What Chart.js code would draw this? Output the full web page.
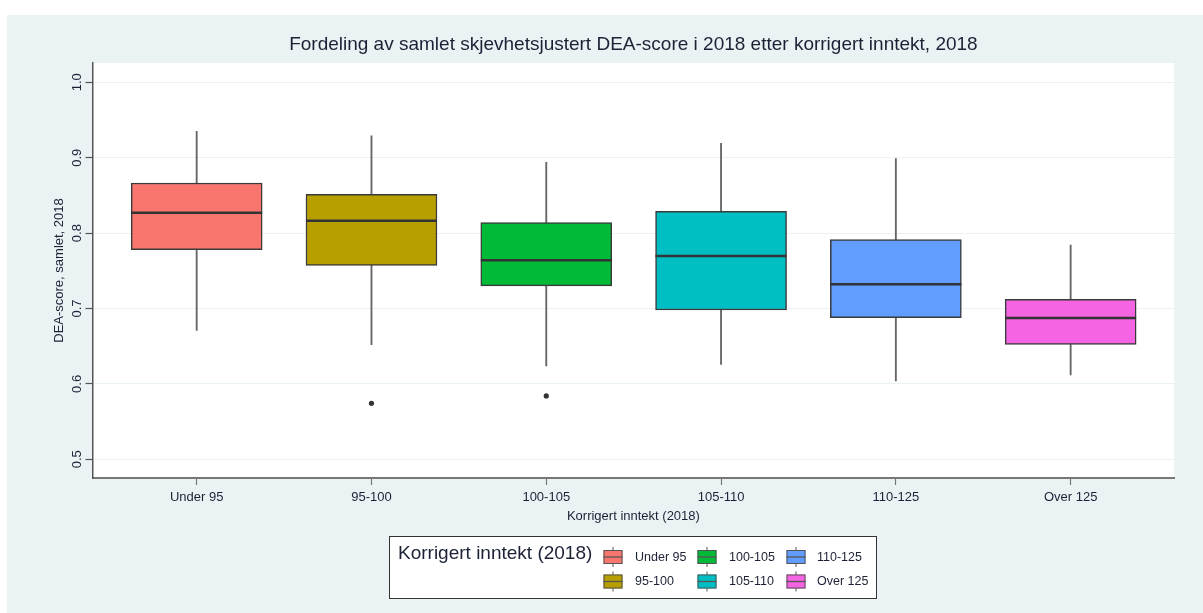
<!DOCTYPE html>
<html><head><meta charset="utf-8">
<script src="https://cdn.jsdelivr.net/npm/chart.js@4.4.0/dist/chart.umd.min.js"></script>
<style>html,body{margin:0;padding:0;background:#fff;}canvas{display:block;}</style>
</head><body>
<canvas id="c" width="1203" height="613"></canvas>
<script>
// ---- data ----
const categories  = ['Under 95', '95-100', '100-105', '105-110', '110-125', 'Over 125'];
const whiskerLow  = [0.671, 0.652, 0.624, 0.626, 0.604, 0.612];
const q1          = [0.778, 0.757, 0.730, 0.698, 0.688, 0.6525];
const medians     = [0.827, 0.8165, 0.764, 0.7696, 0.732, 0.6874];
const q3          = [0.8665, 0.8515, 0.8138, 0.829, 0.7913, 0.7122];
const whiskerHigh = [0.935, 0.929, 0.894, 0.919, 0.899, 0.784];
const outlierCat  = [1, 2];
const outlierVal  = [0.5743, 0.584];
const yTicks      = [0.5, 0.6, 0.7, 0.8, 0.9, 1.0];
const boxColors   = ['#F8766D', '#B79F00', '#00BA38', '#00BFC4', '#619CFF', '#F564E3'];
const chartTitle  = 'Fordeling av samlet skjevhetsjustert DEA-score i 2018 etter korrigert inntekt, 2018';
const yTitle      = 'DEA-score, samlet, 2018';
const xTitle      = 'Korrigert inntekt (2018)';
const legendTitle = 'Korrigert inntekt (2018)';

const FONT = 'Liberation Sans, Arial, sans-serif';
const TXT = '#1c2236';
const BG = '#eaf2f3';

const bgPlugin = {
  id: 'bg',
  beforeDraw(chart) {
    const {ctx, chartArea: a} = chart;
    ctx.save();
    ctx.fillStyle = '#fff';
    ctx.fillRect(0, 0, chart.width, chart.height);
    ctx.fillStyle = BG;
    ctx.fillRect(7, 15, chart.width - 7, chart.height - 15);
    ctx.fillStyle = '#fff';
    ctx.fillRect(a.left, a.top, a.right - a.left, a.bottom - a.top);
    ctx.restore();
  }
};

const legendPlugin = {
  id: 'boxLegend',
  afterDraw(chart) {
    const ctx = chart.ctx;
    ctx.save();
    ctx.fillStyle = '#fff';
    ctx.fillRect(389.5, 536.5, 487, 62);
    ctx.strokeStyle = '#333';
    ctx.lineWidth = 1;
    ctx.strokeRect(389.5, 536.5, 487, 62);
    ctx.fillStyle = TXT;
    ctx.textBaseline = 'middle';
    ctx.textAlign = 'left';
    ctx.font = '19px ' + FONT;
    ctx.fillText(legendTitle, 398, 554);
    const colX = [603.5, 697.5, 786.5], textX = [635, 729, 817], rowY = [557, 581.5];
    ctx.font = '12.5px ' + FONT;
    categories.forEach((c, i) => {
      const col = Math.floor(i / 2), row = i % 2;
      const x = colX[col], y = rowY[row];
      ctx.strokeStyle = '#555';
      ctx.lineWidth = 1;
      ctx.beginPath();
      ctx.moveTo(x + 9.5, y - 10); ctx.lineTo(x + 9.5, y + 10);
      ctx.stroke();
      ctx.fillStyle = boxColors[i];
      ctx.fillRect(x, y - 7, 19, 14);
      ctx.strokeRect(x + 0.5, y - 6.5, 18, 13);
      ctx.beginPath();
      ctx.moveTo(x, y); ctx.lineTo(x + 19, y);
      ctx.lineWidth = 1.3;
      ctx.stroke();
      ctx.fillStyle = TXT;
      ctx.fillText(c, textX[col], y + 0.5);
    });
    ctx.restore();
  }
};

new Chart(document.getElementById('c'), {
  type: 'bar',
  data: {
    datasets: [
      {
        type: 'scatter',
        data: medians.map((m, i) => ({x: i, y: m})),
        pointStyle: 'line', pointRadius: 65.5, pointHoverRadius: 65.5,
        borderColor: '#333', borderWidth: 2.5, order: 0
      },
      {
        type: 'scatter',
        data: outlierCat.map((c, i) => ({x: c, y: outlierVal[i]})),
        pointRadius: 2.6, backgroundColor: '#333', borderWidth: 0, order: 0
      },
      {
        type: 'bar',
        data: q1.map((v, i) => ({x: i, y: [v, q3[i]]})),
        backgroundColor: boxColors, borderColor: '#3a3a3a', borderWidth: 1.5,
        borderSkipped: false, barThickness: 131, grouped: false, order: 2
      },
      {
        type: 'bar',
        data: whiskerLow.map((v, i) => ({x: i, y: [v, whiskerHigh[i]]})),
        backgroundColor: '#666', borderWidth: 0,
        barThickness: 1.2, grouped: false, order: 3
      }
    ]
  },
  options: {
    responsive: false,
    animation: false,
    devicePixelRatio: 1,
    layout: { autoPadding: false, padding: { left: 0, right: 28.7, top: 0, bottom: 85 } },
    plugins: {
      legend: { display: false },
      tooltip: { enabled: false },
      title: {
        display: true, text: chartTitle, fullSize: false,
        color: TXT, font: { family: FONT, size: 19, weight: 'normal' },
        padding: { top: 33.6, bottom: 6.6 }
      }
    },
    scales: {
      x: {
        type: 'linear', min: -0.596, max: 5.593, offset: false,
        afterBuildTicks: s => { s.ticks = categories.map((c, i) => ({value: i})); },
        afterFit: s => { s.height = 50; },
        ticks: {
          callback: v => categories[v] ?? '', autoSkip: false, maxRotation: 0,
          padding: 4.2, color: TXT, font: { family: FONT, size: 13 }
        },
        grid: { offset: false, drawOnChartArea: false, tickLength: 7, tickColor: '#777', tickWidth: 1.2 },
        border: { color: '#777', width: 2 },
        title: { display: true, text: xTitle, color: TXT, font: { family: FONT, size: 13 }, padding: { top: 0, bottom: 3.9 } }
      },
      y: {
        min: 0.4752, max: 1.0256, beginAtZero: false,
        afterBuildTicks: s => { s.ticks = yTicks.map(v => ({value: v})); },
        afterFit: s => { s.width = 92.5; },
        ticks: {
          callback: v => v.toFixed(1), minRotation: 90, maxRotation: 90, crossAlign: 'center',
          padding: -1, color: TXT, font: { family: FONT, size: 13 }
        },
        grid: { color: BG, lineWidth: 1, tickLength: 7, tickColor: '#555', tickWidth: 1.2 },
        border: { color: '#555', width: 1.5 },
        title: { display: true, text: yTitle, color: TXT, font: { family: FONT, size: 13 }, padding: { top: 51.2, bottom: 0 } }
      }
    }
  },
  plugins: [bgPlugin, legendPlugin]
});
</script>
</body></html>
